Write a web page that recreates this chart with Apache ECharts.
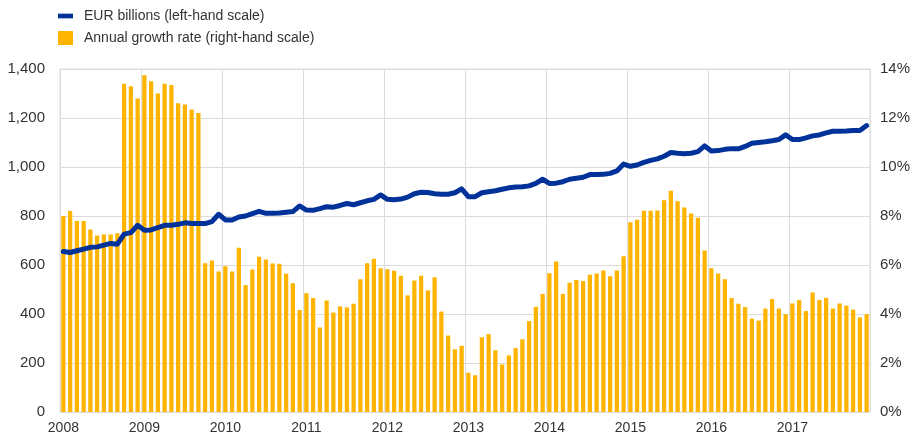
<!DOCTYPE html>
<html>
<head>
<meta charset="utf-8">
<script src="https://cdn.jsdelivr.net/npm/echarts@6/dist/echarts.min.js"></script>
<style>
  html, body { margin: 0; padding: 0; background: #fff; }
  #main { width: 918px; height: 438px; }
</style>
</head>
<body>
<div id="main"></div>
<script>
var years = ['2008', '2009', '2010', '2011', '2012', '2013', '2014', '2015', '2016', '2017'];
var monthNames = ['01', '02', '03', '04', '05', '06', '07', '08', '09', '10', '11', '12'];

// annual growth rate, % (right-hand scale)
var growthRate = [
  8.0, 8.2, 7.8, 7.8, 7.45, 7.2, 7.25, 7.25, 7.3, 13.4, 13.3, 12.8,
  13.75, 13.5, 13.0, 13.4, 13.35, 12.6, 12.55, 12.35, 12.2, 6.07, 6.18, 5.73,
  5.95, 5.73, 6.7, 5.18, 5.82, 6.34, 6.22, 6.06, 6.05, 5.64, 5.26, 4.16,
  4.85, 4.65, 3.45, 4.55, 4.06, 4.31, 4.27, 4.42, 5.42, 6.07, 6.26, 5.87,
  5.83, 5.77, 5.56, 4.76, 5.37, 5.56, 4.96, 5.5, 4.1, 3.12, 2.56, 2.7,
  1.6, 1.5, 3.05, 3.18, 2.52, 1.94, 2.31, 2.61, 2.97, 3.71, 4.29, 4.82,
  5.66, 6.14, 4.82, 5.28, 5.39, 5.35, 5.6, 5.65, 5.78, 5.54, 5.78, 6.36,
  7.74, 7.85, 8.21, 8.21, 8.22, 8.64, 9.03, 8.6, 8.35, 8.1, 7.93, 6.59,
  5.87, 5.65, 5.42, 4.65, 4.42, 4.28, 3.81, 3.73, 4.22, 4.61, 4.22, 3.99,
  4.43, 4.57, 4.12, 4.88, 4.57, 4.66, 4.22, 4.43, 4.34, 4.18, 3.86, 3.99
];

// EUR billions (left-hand scale)
var eurBillions = [
  655, 651, 658, 665, 672, 674, 681, 688, 685, 726, 732, 762,
  742, 743, 753, 762, 762, 766, 772, 769, 769, 769, 777, 807,
  784, 784, 796, 800, 810, 819, 811, 811, 812, 815, 818, 841,
  824, 823, 830, 838, 836, 843, 851, 846, 854, 862, 868, 886,
  868, 866, 869, 877, 891, 897, 896, 891, 889, 889, 895, 911,
  879, 879, 895, 899, 903, 909, 915, 918, 919, 923, 933, 950,
  933, 934, 940, 950, 954, 958, 969, 969, 970, 974, 984, 1012,
  1003, 1008, 1019, 1027, 1033, 1044, 1059, 1056, 1054, 1056, 1063, 1086,
  1065, 1067, 1072, 1075, 1074, 1084, 1097, 1100, 1103, 1107, 1112, 1131,
  1112, 1112, 1119, 1127, 1131, 1139, 1146, 1146, 1147, 1149, 1149, 1169
];

var months = [];
years.forEach(function (y) {
  monthNames.forEach(function (m) {
    months.push(y + '-' + m);
  });
});

var lineName = 'EUR billions (left-hand scale)';
var barName = 'Annual growth rate (right-hand scale)';
var font = '"Liberation Sans", Arial, sans-serif';

var chart = echarts.init(document.getElementById('main'));

var option = {
  animation: false,
  textStyle: { fontFamily: font },
  legend: {
    orient: 'vertical',
    left: 53,
    top: 4,
    itemWidth: 15,
    itemHeight: 14,
    itemGap: 8,
    textStyle: { fontSize: 14, color: '#333', fontFamily: font, padding: [0, 0, 0, 6] },
    data: [
      { name: lineName, icon: 'path://M0,0H16V5H0Z' },
      { name: barName, icon: 'rect' }
    ]
  },
  grid: {
    left: 60,
    right: 48,
    top: 69,
    bottom: 26,
    show: true,
    borderColor: '#dcdcdc',
    borderWidth: 1
  },
  xAxis: {
    type: 'category',
    data: months,
    boundaryGap: true,
    axisLine: { show: false },
    axisTick: { show: false },
    axisLabel: {
      interval: 11,
      margin: 9,
      fontSize: 14,
      color: '#333',
      formatter: function (v) { return v.slice(0, 4); }
    },
    splitLine: {
      show: true,
      interval: 11,
      lineStyle: { color: '#dcdcdc', width: 1 }
    }
  },
  yAxis: [
    {
      type: 'value',
      min: 0,
      max: 1400,
      interval: 200,
      axisLine: { show: false },
      axisTick: { show: false },
      axisLabel: {
        fontSize: 15,
        color: '#333',
        margin: 15,
        formatter: function (v) { return v.toLocaleString('en-US'); }
      },
      splitLine: { lineStyle: { color: '#dcdcdc', width: 1 } }
    },
    {
      type: 'value',
      min: 0,
      max: 14,
      interval: 2,
      axisLine: { show: false },
      axisTick: { show: false },
      axisLabel: {
        fontSize: 15,
        color: '#333',
        margin: 10,
        formatter: '{value}%'
      },
      splitLine: { show: false }
    }
  ],
  series: [
    {
      name: barName,
      type: 'bar',
      yAxisIndex: 1,
      data: growthRate,
      barCategoryGap: '37%',
      itemStyle: { color: '#FFB400' },
      z: 2
    },
    {
      name: lineName,
      type: 'line',
      yAxisIndex: 0,
      data: eurBillions,
      symbol: 'none',
      lineStyle: { color: '#003299', width: 5, join: 'round', cap: 'round' },
      itemStyle: { color: '#003299' },
      z: 3
    }
  ]
};

chart.setOption(option);
</script>
</body>
</html>
